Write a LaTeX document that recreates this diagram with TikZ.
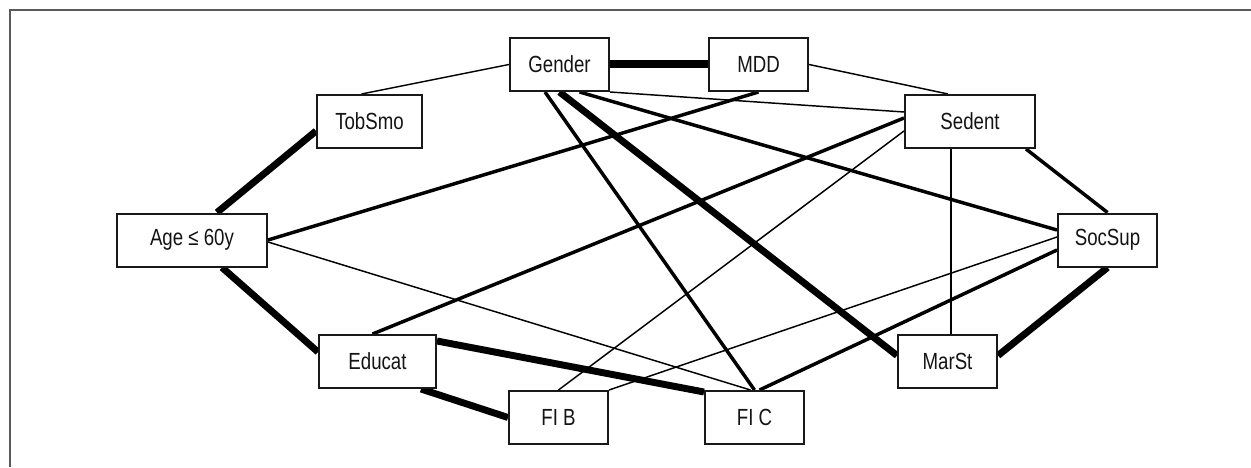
\documentclass[tikz,border=0pt]{standalone}
\usepackage{fontspec}
\setmainfont{Liberation Sans}[FakeStretch=0.8]
\usetikzlibrary{calc,backgrounds}

\tikzset{
  var/.style={draw=black!90, line width=1.5pt, fill=white, minimum height=39.75pt,
    minimum width=74.25pt, inner sep=0pt, font=\fontsize{17.5}{20}\selectfont, text=black!92},
  weak/.style={line width=1.1pt},
  medium/.style={line width=2.6pt},
  strong/.style={line width=5.2pt},
  strongest/.style={line width=6pt}
}

\begin{document}
\begin{tikzpicture}[x=0.75pt, y=-0.75pt]
            \useasboundingbox (0,0) rectangle (1251,467);
            \draw[black!65, line width=0.9pt] (1251,10) -- (10,10) -- (10,467);

            % Nodes with manual coordinates
            \node[var] (gender) at (559.5,64.5) {Gender};
            \node[var] (mdd) at (758.5,64.5) {MDD};
            \node[var, minimum width=78.75pt] (tobsmo) at (369.5,121.5) {TobSmo};
            \node[var, minimum width=97.5pt] (sedent) at (970,121.5) {Sedent};
            \node[var, minimum width=112.5pt] (age) at (192,240) {Age ≤ 60y};
            \node[var] (socsup) at (1107.5,240) {SocSup};
            \node[var, minimum width=87.75pt] (educat) at (377.5,361.5) {Educat};
            \node[var] (marst) at (947.5,361.5) {MarSt};
            \node[var] (fib) at (558.5,417.5) {FI B};
            \node[var] (fic) at (754.5,417.5) {FI C};

            % Edges
            \begin{scope}[on background layer]
            \draw[weak] ($(tobsmo.north)+(-8,0)$) -- (gender.west);
            \draw[strongest] (gender.east) -- (mdd.west);
            \draw[weak] (mdd.east) -- ($(sedent.north)+(-22,0)$);
            \draw[weak] (gender.south east) -- ($(sedent.west)+(0,-9.5)$);
            \draw[medium] (mdd.south) -- (age.east);
            \draw[medium] ($(gender.south)+(-14.5,0)$) -- (fic.north);
            \draw[strong] (gender.south) -- ($(marst.west)+(0,-6)$);
            \draw[medium] ($(gender.south)+(20,0)$) -- ($(socsup.west)+(0,-10)$);
            \draw[medium] ($(educat.north)+(-5,0)$) -- ($(sedent.west)+(0,-3.5)$);
            \draw[weak] ($(sedent.west)+(0,9.5)$) -- (fib.north);
            \draw[weak] ($(marst.north)+(3.5,0)$) coordinate (ms) -- (ms |- sedent.south);
            \draw[medium] ($(sedent.south east)+(-10,0)$) -- (socsup.north);
            \draw[weak] ($(socsup.west)+(0,-3)$) -- (fib.north east);
            \draw[medium] ($(socsup.west)+(0,10)$) -- ($(fic.north)+(5,0)$);
            \draw[strong] (socsup.south) -- ($(marst.east)+(0,-6)$);
            \draw[strong] ($(age.north)+(25,0)$) -- ($(tobsmo.west)+(0,9.5)$);
            \draw[strong] ($(age.south)+(30,0)$) -- ($(educat.west)+(0,-9.5)$);
            \draw[weak] ($(age.east)+(0,2)$) -- ($(fic.north)+(-4,0)$);
            \draw[strong] ($(educat.north east)+(0,7)$) -- ($(fic.north west)+(0,2)$);
            \draw[strong] ($(educat.south east)+(-16,0)$) -- (fib.west);
            \end{scope}
        \end{tikzpicture}
\end{document}
